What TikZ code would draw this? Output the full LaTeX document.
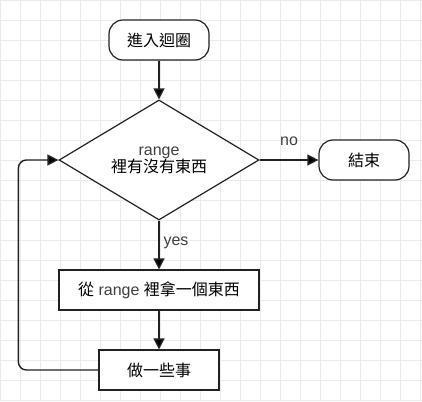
\documentclass[tikz,border=0pt]{standalone}
\usepackage{fontspec}
\setmainfont{Liberation Sans}
\newfontfamily\cjk{Noto Sans CJK TC}
\usetikzlibrary{shapes.geometric,arrows.meta}
\definecolor{gridc}{HTML}{EBEBEB}
\definecolor{linec}{HTML}{222222}
\definecolor{txtc}{HTML}{404040}
\begin{document}
\begin{tikzpicture}[x=1pt,y=-1pt,
  base/.style={draw=linec,line width=1.2pt,fill=white,font=\fontsize{16}{18}\selectfont,text=black,inner sep=0pt},
  term/.style={base,rounded corners=14pt,minimum height=40pt},
  proc/.style={base,minimum height=40pt},
  dec/.style={base,diamond,aspect=1.6667,minimum width=200pt,minimum height=120pt},
  conn/.style={draw=linec,line width=1.4pt,-{Triangle[length=11pt,width=11pt,fill=black]}},
  lbl/.style={font=\fontsize{16}{18}\selectfont,text=txtc,inner sep=0pt}]
\useasboundingbox (0,0) rectangle (422,401);
\fill[white] (0,0) rectangle (422,401);
\foreach \i in {0,20,...,420} \draw[gridc,line width=0.8pt] (\i,0) -- (\i,401);
\foreach \j in {0,20,...,400} \draw[gridc,line width=0.8pt] (0,\j) -- (422,\j);

\node[term,minimum width=100pt] (start) at (159,40) {\cjk 進入迴圈};
\node[dec,align=center] (cond) at (159,160) {\textcolor{txtc}{range}\\[-1pt]{\cjk 裡有沒有東西}};
\node[term,minimum width=90pt] (end) at (364,160) {\cjk 結束};
\node[proc,minimum width=200pt] (take) at (159,290) {{\cjk 從} \textcolor{txtc}{range} {\cjk 裡拿一個東西}};
\node[proc,minimum width=120pt] (do) at (159,370) {\cjk 做一些事};

\node[lbl] (no) at (289,141) {no};
\node[lbl] (yes) at (176,243) {yes};

\draw[conn] (start) -- (cond);
\draw[conn] (cond) -- (end);
\draw[conn] (cond) -- (take);
\draw[conn] (take) -- (do);
\draw[conn,rounded corners=8pt] (do.west) -- ++(-80,0) |- (cond.west);
\end{tikzpicture}
\end{document}
